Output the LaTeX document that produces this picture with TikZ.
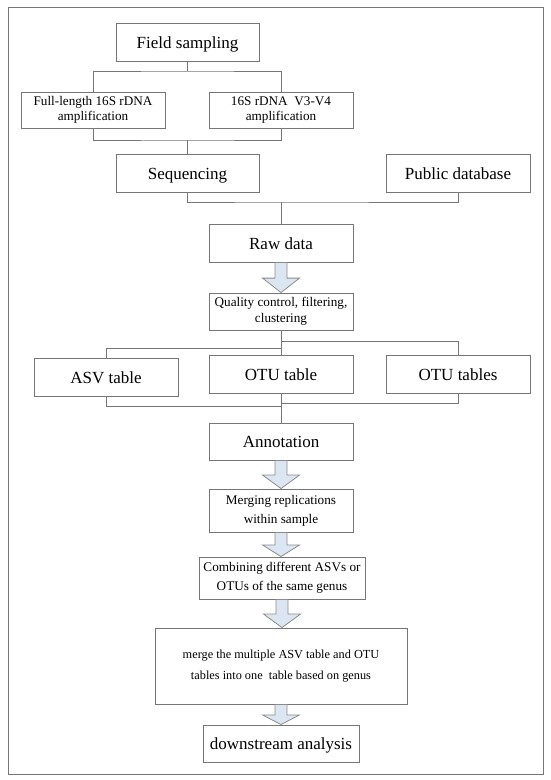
\documentclass[tikz,border=0pt]{standalone}
\usepackage{fontspec}
\setmainfont{Liberation Serif}
\usetikzlibrary{calc}
\definecolor{lc}{RGB}{118,118,118}
\definecolor{arrfill}{RGB}{220,230,242}
\definecolor{arrline}{RGB}{140,140,140}
\tikzset{
  box/.style={draw=lc, line width=0.9pt, fill=white, inner sep=0pt, align=center, text=black},
  bigt/.style={font=\fontsize{17}{20}\selectfont, text height=12pt, text depth=0pt},
  smallt/.style={font=\fontsize{13.2}{15.5}\selectfont},
  conn/.style={draw=lc, line width=0.9pt},
  blkarr/.style={draw=arrline, fill=arrfill, line width=0.8pt, line join=miter}
}
\newcommand\blkarrow[2]{%
  \path[blkarr] let \p1=(#1.south), \p2=(#2.north), \p3=($(#1.south)!0.52!(#2.north)$) in
    (\x1-6pt,\y1) -- (\x1+6pt,\y1) -- (\x1+6pt,\y3) -- (\x1+18.5pt,\y3) -- (\x1,\y2)
    -- (\x1-18.5pt,\y3) -- (\x1-6pt,\y3) -- cycle;}
\begin{document}
\begin{tikzpicture}[x=1pt,y=-1pt]
\useasboundingbox (0,0) rectangle (550,780);
\draw[lc, line width=0.9pt] (8,7) rectangle (543,774);
% boxes
\node[box,bigt,minimum width=143,minimum height=38] (fs) at (187.5,42) {Field sampling};
\node[box,smallt,minimum width=144,minimum height=36] (fl) at (93,110) {Full-length 16S rDNA\\amplification};
\node[box,smallt,minimum width=144,minimum height=36] (v34) at (281,110) {16S rDNA\ \ V3-V4\\amplification};
\node[box,bigt,minimum width=143,minimum height=38] (seq) at (187.5,173) {Sequencing};
\node[box,bigt,minimum width=144,minimum height=38] (pub) at (458,173) {Public database};
\node[box,bigt,minimum width=144,minimum height=38] (raw) at (281,243) {Raw data};
\node[box,smallt,minimum width=144,minimum height=37] (qc) at (281,311.5) {Quality control, filtering,\\clustering};
\node[box,bigt,minimum width=144,minimum height=38] (asv) at (106,377) {ASV table};
\node[box,bigt,minimum width=144,minimum height=38] (otu) at (281,374) {OTU table};
\node[box,bigt,minimum width=144,minimum height=38] (otus) at (458,374) {OTU tables};
\node[box,bigt,minimum width=144,minimum height=37] (ann) at (281,441.5) {Annotation};
\node[box,font=\fontsize{13.2}{19}\selectfont,minimum width=144,minimum height=43] (mrg) at (281,510.5) {Merging replications\\within sample};
\node[box,font=\fontsize{13.2}{19}\selectfont,minimum width=166,minimum height=42] (comb) at (282,578) {Combining different ASVs or\\OTUs of the same genus};
\node[box,font=\fontsize{12.3}{21}\selectfont,minimum width=252,minimum height=76] (mg) at (281,666) {merge the multiple ASV table and OTU\\tables into one\ \ table based on genus};
\node[box,bigt,minimum width=156,minimum height=37] (ds) at (281,743.5) {downstream analysis};
% connectors
\coordinate (j1) at (187.5,71);
\coordinate (j2) at (187.5,140);
\coordinate (j3) at (281,202);
\coordinate (j4) at (281,341);
\coordinate (j5) at (281,348);
\coordinate (j6) at (281,403);
\coordinate (j7) at (281,406);
\draw[conn] (fs.south) -- (j1);
\draw[conn] (fl.north) |- (j1) -| (v34.north);
\draw[conn] (fl.south) |- (j2) -| (v34.south);
\draw[conn] (j2) -- (seq.north);
\draw[conn] (seq.south) |- (j3) -| (pub.south);
\draw[conn] (j3) -- (raw.north);
\draw[conn] (qc.south) -- (otu.north);
\draw[conn] (j4) -| (otus.north);
\draw[conn] (j5) -| (asv.north);
\draw[conn] (otus.south) |- (j6);
\draw[conn] (asv.south) |- (j7);
\draw[conn] (otu.south) -- (ann.north);
% block arrows
\blkarrow{raw}{qc}
\blkarrow{ann}{mrg}
\blkarrow{mrg}{comb}
\blkarrow{comb}{mg}
\blkarrow{mg}{ds}
\end{tikzpicture}
\end{document}
